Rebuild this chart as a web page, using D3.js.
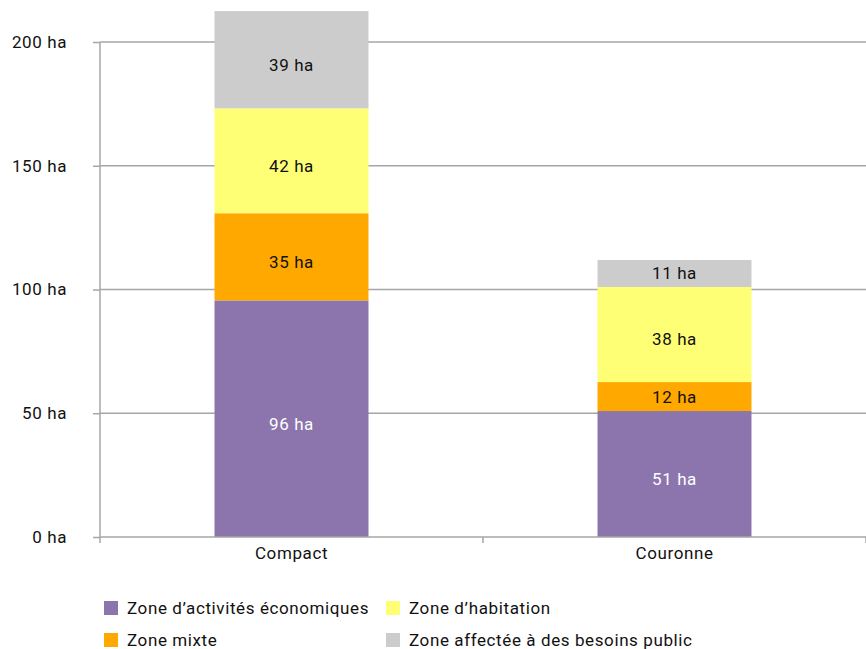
<!DOCTYPE html>
<html><head><meta charset="utf-8">
<script src="https://cdn.jsdelivr.net/npm/d3@7"></script>
<style>body{margin:0;background:#fff}svg{display:block}text{font-family:Roboto,"Noto Sans",sans-serif;letter-spacing:0.6px}</style>
</head><body><svg id="c" width="866" height="649"></svg>
<script>
const categories = ["Compact", "Couronne"];
const seriesNames = ["Zone d’activités économiques", "Zone mixte", "Zone d’habitation", "Zone affectée à des besoins public"];
const activites = [95.6, 50.9];
const mixte = [35.2, 11.7];
const habitation = [42.4, 38.4];
const publicZ = [39.3, 10.9];
const yTicks = [0, 50, 100, 150, 200];
const colors = ["#8c75ad", "#ffa800", "#ffff75", "#cccccc"];
const labelColors = ["#ffffff", "#111111", "#111111", "#111111"];

(function () {
const series = [activites, mixte, habitation, publicZ];
const svg = d3.select("#c");
const mLeft = 100, mRight = 866, mTop = 42, mBottom = 537;
const fs = 17;
const x = d3.scaleBand().domain(categories).range([mLeft, mRight]).paddingInner(0.598).paddingOuter(0.299);
const y = d3.scaleLinear().domain([0, 200]).range([mBottom, mTop]);

// gridlines
svg.append("g").selectAll("line").data(yTicks.filter(d => d > 0)).join("line")
  .attr("x1", mLeft).attr("x2", mRight).attr("y1", d => y(d)).attr("y2", d => y(d))
  .attr("stroke", "#a6a6a6").attr("stroke-width", 1.5);

// stacked bars
const rows = categories.map((c, i) => { const o = {cat: c}; series.forEach((s, k) => o["s" + k] = s[i]); return o; });
const stack = d3.stack().keys(series.map((s, k) => "s" + k))(rows);
const g = svg.append("g");
stack.forEach((layer, k) => {
  g.selectAll(null).data(layer).join("rect")
    .attr("x", d => x(d.data.cat)).attr("width", x.bandwidth())
    .attr("y", d => y(d[1])).attr("height", d => y(d[0]) - y(d[1]))
    .attr("fill", colors[k]);
  g.selectAll(null).data(layer).join("text")
    .attr("x", d => x(d.data.cat) + x.bandwidth() / 2)
    .attr("y", d => {
      const h = y(d[0]) - y(d[1]);
      return (y(d[0]) + y(d[1])) / 2 + Math.max(0, Math.min(5, (h - 27) / 2));
    })
    .attr("dy", "0.35em").attr("text-anchor", "middle")
    .attr("font-size", fs).attr("fill", labelColors[k])
    .text(d => Math.round(d[1] - d[0]) + " ha");
});

// y axis
const ya = svg.append("g").attr("transform", `translate(${mLeft},0)`)
  .call(d3.axisLeft(y).tickValues(yTicks).tickSize(7).tickPadding(26).tickFormat(d => d + " ha"));
ya.select(".domain").attr("stroke", "#a6a6a6").attr("stroke-width", 1.5).attr("d", `M0,${mTop}V${mBottom}`);
ya.selectAll(".tick line").attr("stroke", "#a6a6a6").attr("stroke-width", 1.5);
ya.selectAll(".tick text").attr("font-size", fs).attr("fill", "#111").attr("font-family", "Roboto");

// x axis
const xa = svg.append("g").attr("transform", `translate(0,${mBottom})`)
  .call(d3.axisBottom(x).tickSize(0).tickPadding(10));
xa.select(".domain").attr("stroke", "#a6a6a6").attr("stroke-width", 1.5).attr("d", `M${mLeft},0H${mRight}`);
xa.selectAll(".tick text").attr("font-size", fs).attr("fill", "#111").attr("font-family", "Roboto").attr("dy", "0.71em");
svg.append("g").selectAll("line").data([mLeft, (mLeft + mRight) / 2, mRight]).join("line")
  .attr("x1", d => d).attr("x2", d => d).attr("y1", mBottom).attr("y2", mBottom + 6)
  .attr("stroke", "#a6a6a6").attr("stroke-width", 1.5);

// legend
const legendOrder = [0, 2, 1, 3];
const lg = svg.append("g");
legendOrder.forEach((k, i) => {
  const col = i % 2, row = Math.floor(i / 2);
  const lx = 104 + col * 282, ly = 601 + row * 32;
  lg.append("rect").attr("x", lx).attr("y", ly).attr("width", 14).attr("height", 14).attr("fill", colors[k]);
  lg.append("text").attr("x", lx + 23).attr("y", ly + 7).attr("dy", "0.35em")
    .attr("font-size", fs).attr("fill", "#111").text(seriesNames[k]);
});
})();
</script></body></html>
